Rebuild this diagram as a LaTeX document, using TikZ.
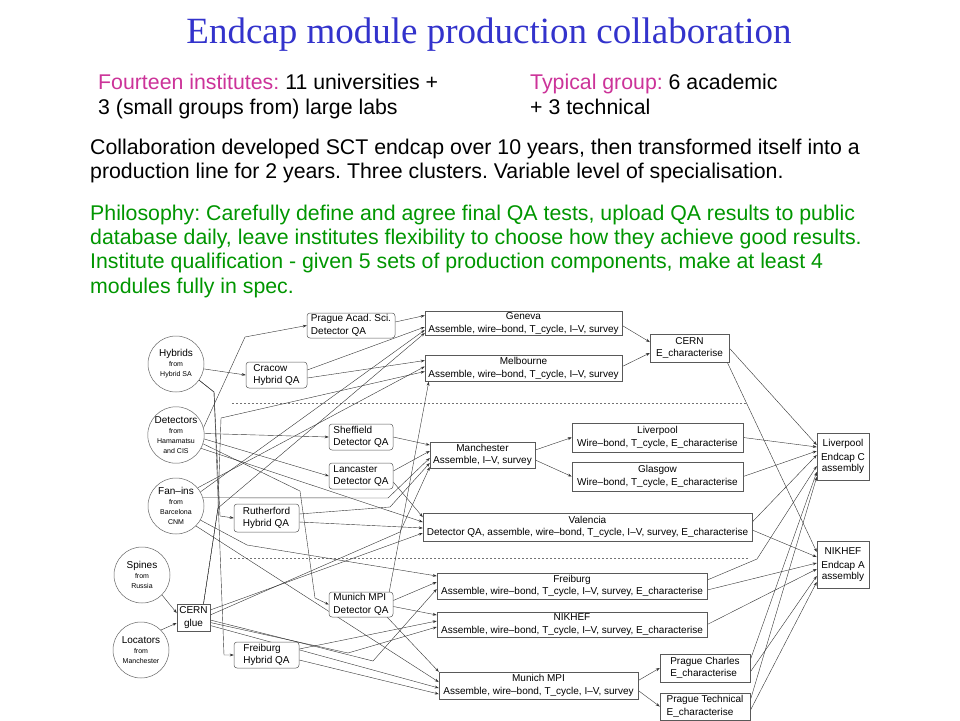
\documentclass[tikz,border=0pt]{standalone}
\usepackage{fontspec}
\setmainfont{Liberation Sans}
\newfontfamily\titlefont{Liberation Serif}
\usetikzlibrary{arrows.meta,backgrounds}
\definecolor{ttl}{RGB}{51,51,204}
\definecolor{mag}{RGB}{204,51,153}
\definecolor{grn}{RGB}{0,150,0}
\newcommand\sm[1]{{\fontsize{7}{9}\selectfont #1}}
\frenchspacing
\begin{document}
\begin{tikzpicture}[x=1pt,y=-1pt,
  box/.style={draw=black!65, line width=0.5pt, fill=white, font=\fontsize{10}{12.5}\selectfont, inner sep=0pt, align=center},
  qabox/.style={box, rounded corners=3pt, align=left},
  src/.style={circle, draw=black!60, line width=0.5pt, fill=white, minimum size=56pt, inner sep=0pt, align=center, font=\fontsize{10}{10}\selectfont},
  arr/.style={draw=black!80, line width=0.4pt, -{Stealth[length=4pt,width=2.8pt]}},
  sep/.style={draw=black!55, line width=0.5pt, dash pattern=on 2pt off 2pt},
  hdr/.style={anchor=base west, inner sep=0pt, font=\fontsize{21.3}{24}\selectfont}]
\useasboundingbox (0,0) rectangle (960,720);

% texts
\node[anchor=base, inner sep=0pt, text=ttl, font=\titlefont\fontsize{37}{40}\selectfont] (title) at (489,43) {Endcap module production collaboration};
\node[hdr] (h1) at (98,89) {\textcolor{mag}{Fourteen institutes:} 11 universities +};
\node[hdr] (h2) at (98,114) {3 (small groups from) large labs};
\node[hdr] (h3) at (530,89) {\textcolor{mag}{Typical group:} 6 academic};
\node[hdr] (h4) at (530,114) {+ 3 technical};
\node[hdr] (p1) at (90,154) {Collaboration developed SCT endcap over 10 years, then transformed itself into a};
\node[hdr] (p2) at (90,178) {production line for 2 years. Three clusters. Variable level of specialisation.};
\node[hdr, text=grn] (g1) at (90,220) {Philosophy: Carefully define and agree final QA tests, upload QA results to public};
\node[hdr, text=grn] (g2) at (90,244) {database daily, leave institutes flexibility to choose how they achieve good results.};
\node[hdr, text=grn] (g3) at (90,268) {Institute qualification - given 5 sets of production components, make at least 4};
\node[hdr, text=grn] (g4) at (90,293) {modules fully in spec.};

% sources
\node[src] (hyb) at (176,364) {Hybrids\\\sm{from}\\\sm{Hybrid SA}};
\node[src] (det) at (176,435) {Detectors\\\sm{from}\\\sm{Hamamatsu}\\\sm{and CIS}};
\node[src] (fan) at (176,506) {Fan–ins\\\sm{from}\\\sm{Barcelona}\\\sm{CNM}};
\node[src] (spi) at (142,575) {Spines\\\sm{from}\\\sm{Russia}};
\node[src] (loc) at (141,650) {Locators\\\sm{from}\\\sm{Manchester}};
\node[box, minimum width=33pt, minimum height=27pt] (glue) at (193.5,617.5) {CERN\\glue};

% QA boxes
\node[qabox, minimum width=88pt, minimum height=25pt] (pacad) at (351,325.5) {Prague Acad. Sci.\\Detector QA};
\node[qabox, minimum width=61pt, minimum height=26pt] (cracow) at (276.5,375) {Cracow\\Hybrid QA};
\node[qabox, minimum width=64pt, minimum height=26pt] (sheff) at (361,437) {Sheffield\\Detector QA};
\node[qabox, minimum width=64pt, minimum height=26pt] (lanc) at (361,476) {Lancaster\\Detector QA};
\node[qabox, minimum width=65pt, minimum height=28pt] (ruth) at (266.5,518) {Rutherford\\Hybrid QA};
\node[qabox, minimum width=64pt, minimum height=25pt] (mdqa) at (361,604.5) {Munich MPI\\Detector QA};
\node[qabox, minimum width=65pt, minimum height=26pt] (fhqa) at (266.5,655) {Freiburg\\Hybrid QA};

% module sites
\node[box, minimum width=197pt, minimum height=24pt] (geneva) at (523.5,323.5) {Geneva\\Assemble, wire–bond, T\_cycle, I–V, survey};
\node[box, minimum width=197pt, minimum height=26pt] (melb) at (523.5,368.5) {Melbourne\\Assemble, wire–bond, T\_cycle, I–V, survey};
\node[box, minimum width=79pt, minimum height=28pt] (cern) at (689.5,348) {CERN\\E\_characterise};
\node[box, minimum width=105pt, minimum height=26pt] (manc) at (482.5,455) {Manchester\\Assemble, I–V, survey};
\node[box, minimum width=171pt, minimum height=29pt] (liv) at (657.5,437.5) {Liverpool\\Wire–bond, T\_cycle, E\_characterise};
\node[box, minimum width=171pt, minimum height=29pt] (gla) at (657.5,476.5) {Glasgow\\Wire–bond, T\_cycle, E\_characterise};
\node[box, minimum width=329pt, minimum height=28pt] (val) at (587.5,527) {Valencia\\Detector QA, assemble, wire–bond, T\_cycle, I–V, survey, E\_characterise};
\node[box, minimum width=270pt, minimum height=26pt] (frei) at (572,586) {Freiburg\\Assemble, wire–bond, T\_cycle, I–V, survey, E\_characterise};
\node[box, minimum width=270pt, minimum height=25pt] (nik) at (572,624.5) {NIKHEF\\Assemble, wire–bond, T\_cycle, I–V, survey, E\_characterise};
\node[box, minimum width=199pt, minimum height=27pt] (mun) at (538.5,685.5) {Munich MPI\\Assemble, wire–bond, T\_cycle, I–V, survey};
\node[box, align=left, minimum width=90pt, minimum height=28pt] (pch) at (705,668) {Prague Charles\\E\_characterise};
\node[box, align=left, minimum width=90pt, minimum height=27pt] (ptech) at (705,706.5) {Prague Technical\\E\_characterise};
\node[box, minimum width=52pt, minimum height=47pt, font=\fontsize{10}{11.5}\selectfont] (endc) at (843,456.5) {Liverpool\\[2.5pt]Endcap C\\assembly};
\node[box, minimum width=52pt, minimum height=47pt, font=\fontsize{10}{11.5}\selectfont] (enda) at (843,564.5) {NIKHEF\\[2.5pt]Endcap A\\assembly};

\begin{pgfonlayer}{background}
\fill[white] (0,0) rectangle (960,720);
\draw[sep] (232,403) -- (746,403);
\draw[sep] (230,558) -- (748,558);
% sources
\draw[arr] (hyb.-10) -- (cracow.west);
\draw[arr] (hyb.-35) -- (214,392) -- (220,516) -- (ruth.west);
\draw[arr] (hyb.-35) -- (214,392) -- (224,655) -- (fhqa.west);
\draw[arr] (det.15) -- (245,337) -- (pacad.west);
\draw[arr] (det.3) -- (sheff.west);
\draw[arr] (det.-8) -- (lanc.west);
\draw[arr] (det.-18) -- (300,491) -- (315,598) -- (mdqa.west);
\draw[arr] (det.-28) -- ([yshift=5pt]val.west);
\draw[arr] (fan.30) -- ([yshift=-6.5pt]geneva.west);
\draw[arr] (fan.40) -- ([yshift=2pt]melb.west);
\draw[arr] (fan.17) -- (388,498) -- ([yshift=-3pt]manc.west);
\draw[arr] (fan.-30) -- (247,545) -- ([yshift=10pt]frei.west);
\draw[arr] (fan.-45) -- ([yshift=3.5pt]mun.west);
\draw[arr] (spi.-45) -- ([yshift=4.5pt]glue.west);
\draw[arr] (loc.45) -- ([yshift=-5.5pt]glue.west);
\draw[arr] ([xshift=10pt]glue.north) -- (218,508) -- ([yshift=-9.5pt]geneva.west);
\draw[arr] ([xshift=10pt]glue.north) -- (218,508) -- (221,418) -- ([yshift=-3pt]melb.west);
\draw[arr] ([yshift=7.5pt]glue.east) -- ([yshift=-6pt]val.west);
\draw[arr] ([yshift=2.5pt]glue.east) -- (400,532) -- ([yshift=-12pt]manc.west);
\draw[arr] ([yshift=-2.5pt]glue.east) -- (373,661) -- ([yshift=-3pt]frei.west);
\draw[arr] ([yshift=-5pt]glue.east) -- (348,653) -- ([yshift=-2.5pt]nik.west);
\draw[arr] ([yshift=-8pt]glue.east) -- ([yshift=-2.5pt]mun.west);
% QA outputs
\draw[arr] ([yshift=3.5pt]pacad.east) -- ([yshift=8pt]geneva.west);
\draw[arr] ([yshift=5pt]cracow.east) -- ([yshift=-3.5pt]geneva.west);
\draw[arr] ([yshift=-3pt]cracow.east) -- ([yshift=8pt]melb.west);
\draw[arr] (sheff.east) -- ([yshift=10pt]manc.west);
\draw[arr] ([yshift=5pt]lanc.east) -- ([yshift=4pt]manc.west);
\draw[arr] ([yshift=-6pt]lanc.east) -- ([yshift=10pt]val.west);
\draw[arr] ([yshift=4pt]ruth.east) -- (390,507) -- ([yshift=-8pt]manc.west);
\draw[arr] ([yshift=-4pt]ruth.east) -- ([yshift=-1pt]val.west);
\draw[arr] ([xshift=-4pt]mdqa.north east) -- ([xshift=4pt]melb.south west);
\draw[arr] ([yshift=4pt]mdqa.east) -- ([yshift=4pt]frei.west);
\draw[arr] ([yshift=-2pt]mdqa.east) -- ([yshift=9.5pt]nik.west);
\draw[arr] ([xshift=-6pt]mdqa.south east) -- (mun.north west);
\draw[arr] ([yshift=6pt]fhqa.east) -- ([yshift=3.5pt]nik.west);
\draw[arr] ([yshift=-5pt]fhqa.east) -- ([yshift=-8.5pt]mun.west);
% site outputs
\draw[arr] ([yshift=-2pt]geneva.east) -- ([yshift=6pt]cern.west);
\draw[arr] ([yshift=2pt]melb.east) -- ([yshift=-5pt]cern.west);
\draw[arr] (cern.east) -- ([yshift=11.5pt]endc.west);
\draw[arr] ([xshift=-2pt]cern.south east) -- ([yshift=12.5pt]enda.west);
\draw[arr] ([yshift=5pt]manc.east) -- (liv.west);
\draw[arr] ([yshift=-5pt]manc.east) -- (gla.west);
\draw[arr] (liv.east) -- ([yshift=9.5pt]endc.west);
\draw[arr] (gla.east) -- ([yshift=5.5pt]endc.west);
\draw[arr] ([yshift=5pt]val.east) -- ([yshift=1.5pt]endc.west);
\draw[arr] ([yshift=-3pt]val.east) -- ([yshift=7.5pt]enda.west);
\draw[arr] ([yshift=6pt]frei.east) -- (757,559) -- ([yshift=-9.5pt]endc.west);
\draw[arr] ([yshift=-4pt]frei.east) -- ([yshift=1.5pt]enda.west);
\draw[arr] (nik.east) -- ([yshift=-4.5pt]enda.west);
\draw[arr] ([yshift=5pt]mun.east) -- (pch.west);
\draw[arr] ([yshift=-5pt]mun.east) -- (ptech.west);
\draw[arr] ([yshift=8pt]pch.east) -- ([yshift=-15.5pt]endc.west);
\draw[arr] ([yshift=-4pt]pch.east) -- ([yshift=-11.5pt]enda.west);
\draw[arr] ([yshift=6pt]ptech.east) -- ([yshift=-20.5pt]endc.west);
\draw[arr] ([yshift=-4pt]ptech.east) -- ([yshift=-17.5pt]enda.west);
\end{pgfonlayer}
\end{tikzpicture}
\end{document}
